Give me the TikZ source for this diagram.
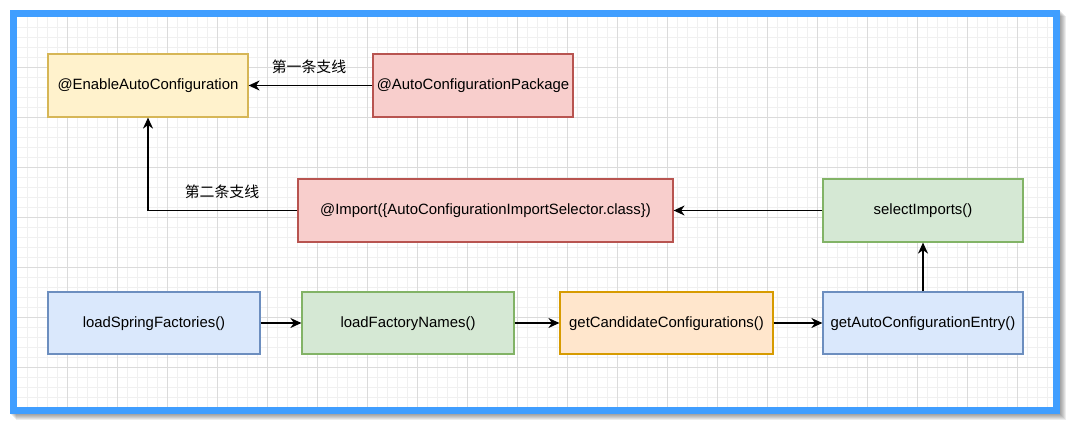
\documentclass[tikz,border=0pt]{standalone}
\usepackage{fontspec}
\setmainfont{Liberation Sans}
\newfontfamily\cjkfont{Noto Sans CJK SC}
\usetikzlibrary{arrows.meta,positioning}

\definecolor{framecol}{RGB}{64,158,255}
\definecolor{yellowfill}{HTML}{FFF2CC}
\definecolor{yellowline}{HTML}{D6B656}
\definecolor{redfill}{HTML}{F8CECC}
\definecolor{redline}{HTML}{B85450}
\definecolor{greenfill}{HTML}{D5E8D4}
\definecolor{greenline}{HTML}{82B366}
\definecolor{bluefill}{HTML}{DAE8FC}
\definecolor{blueline}{HTML}{6C8EBF}
\definecolor{orangefill}{HTML}{FFE6CC}
\definecolor{orangeline}{HTML}{D79B00}

\tikzset{
    box/.style={draw, line width=1.2pt, minimum width=200pt, minimum height=63pt,
        font=\fontsize{14.9}{18}\selectfont, inner sep=0pt, text depth=0.5ex},
    yellowbox/.style={box, fill=yellowfill, draw=yellowline},
    redbox/.style={box, fill=redfill, draw=redline},
    greenbox/.style={box, fill=greenfill, draw=greenline},
    bluebox/.style={box, fill=bluefill, draw=blueline},
    orangebox/.style={box, fill=orangefill, draw=orangeline},
    link/.style={line width=1.5pt, -{Stealth[length=11pt,width=10pt,inset=3.5pt]}},
    branch/.style={font=\cjkfont\fontsize{14.9}{18}\selectfont, inner sep=0pt},
    gridminor/.style={line width=0.7pt, color=black!6},
    gridmajor/.style={line width=0.9pt, color=black!14}
}

\begin{document}
\begin{tikzpicture}[x=1pt,y=-1pt]

    \useasboundingbox (0,0) rectangle (1071,425);

    %shadow
    \foreach \s in {1,...,6}
        \fill[black,opacity=0.07] (10+\s,10+\s) rectangle (1060+\s,414+\s);

    %canvas and grid
    \fill[white] (10,10) rectangle (1060,414);
    \foreach \x in {27,37,...,1053}
        \draw[gridminor] (\x,17) -- (\x,407);
    \foreach \y in {27,37,...,407}
        \draw[gridminor] (17,\y) -- (1053,\y);
    \foreach \x in {67,117,...,1053}
        \draw[gridmajor] (\x,17) -- (\x,407);
    \foreach \y in {67,117,...,407}
        \draw[gridmajor] (17,\y) -- (1053,\y);

    %frame
    \draw[line width=7pt, framecol] (13.5,13.5) rectangle (1056.5,410.5);

    %annotations
    \node[yellowbox] (enable) at (148,85.5) {@EnableAutoConfiguration};
    \node[redbox] (package) at (473,85.5) {@AutoConfigurationPackage};
    \node[redbox, minimum width=375pt] (import) at (485.5,210.5) {@Import(\{AutoConfigurationImportSelector.class\})};
    \node[greenbox] (select) at (923,210.5) {selectImports()};

    %call chain
    \node[bluebox, minimum width=212pt, minimum height=62pt] (springf) at (154,323) {loadSpringFactories()};
    \node[greenbox, minimum width=212pt, minimum height=62pt] (names) at (408,323) {loadFactoryNames()};
    \node[orangebox, minimum width=213pt, minimum height=62pt] (candidate) at (666.5,323) {getCandidateConfigurations()};
    \node[bluebox, minimum height=62pt] (entry) at (923,323) {getAutoConfigurationEntry()};

    \draw[link] (springf) -- (names);
    \draw[link] (names) -- (candidate);
    \draw[link] (candidate) -- (entry);
    \draw[link] (entry) -- (select);
    \draw[link] (select) -- (import);
    \draw[link] (package) -- (enable);
    \draw[link] (import.west) -| (enable.south);

    \node[branch] (first) at (309,67) {第一条支线};
    \node[branch] (second) at (222,192) {第二条支线};

\end{tikzpicture}
\end{document}
